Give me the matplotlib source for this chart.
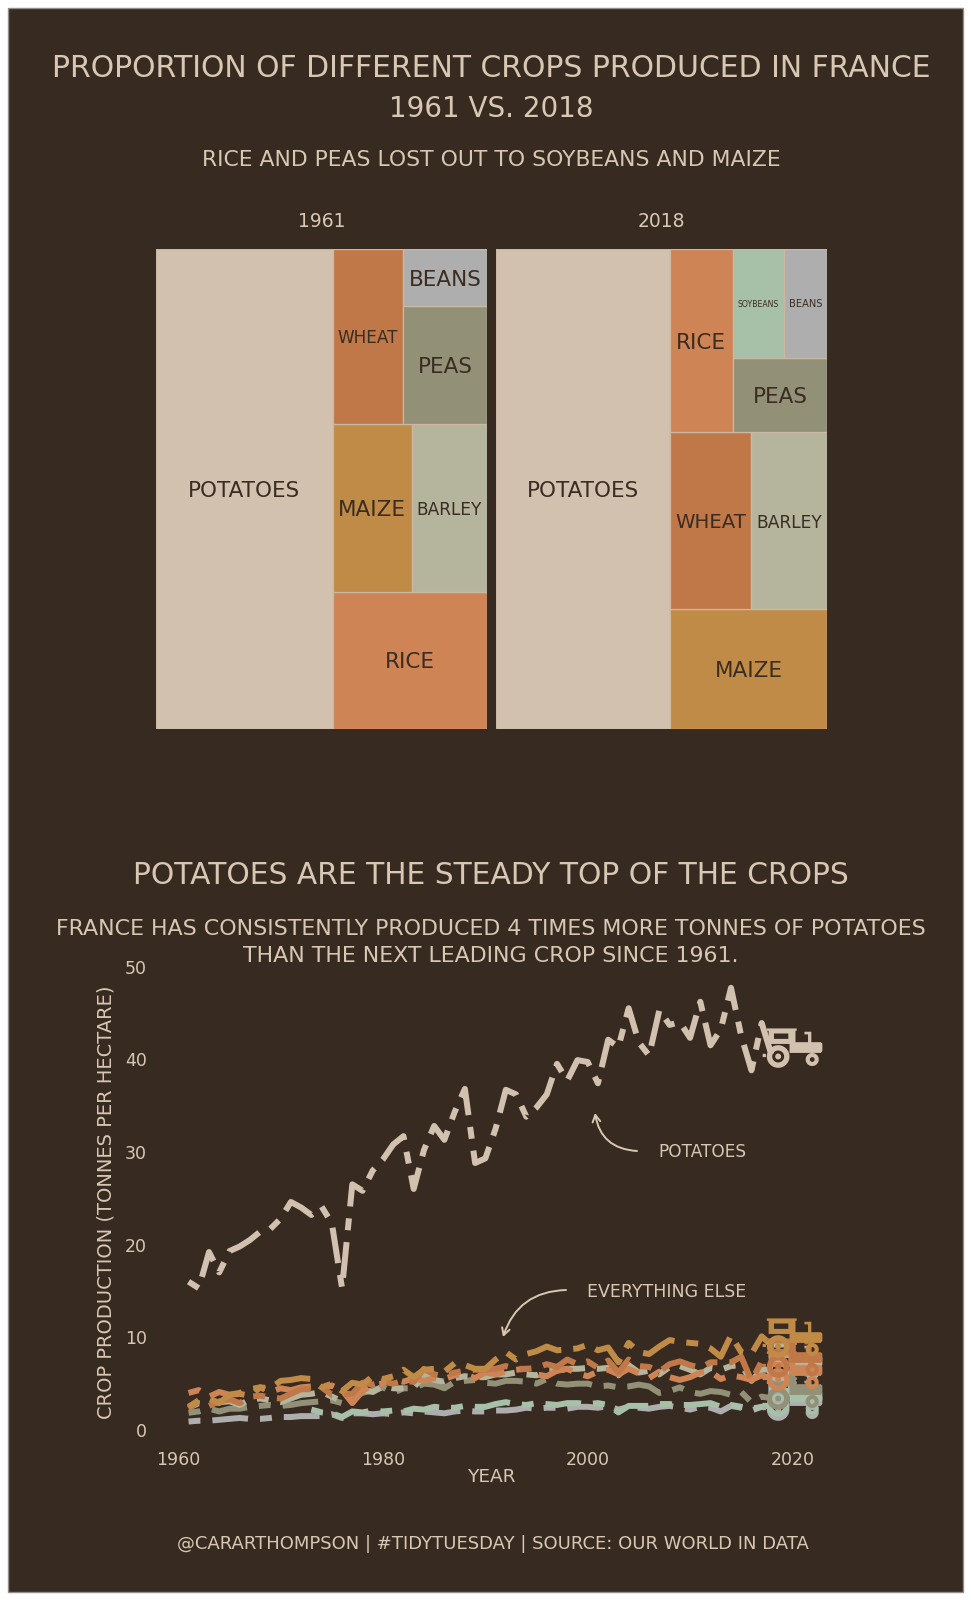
import matplotlib
matplotlib.use("Agg")
import matplotlib.pyplot as plt
from matplotlib.patches import Rectangle
from matplotlib.path import Path
import numpy as np

plt.rcParams['font.family'] = ['DejaVu Sans']

# ---------------------------------------------------------------- data
YEAR_START = 1961
POTATOES = [16.0, 15.3, 19.2, 17.0, 19.3, 19.8, 20.5, 21.4, 21.7, 22.8,
            24.6, 24.0, 23.2, 24.1, 22.3, 15.3, 26.5, 25.8, 28.0, 29.2,
            30.8, 31.7, 26.0, 30.2, 32.8, 31.3, 34.3, 36.8, 28.8, 29.3,
            32.5, 36.7, 36.2, 33.8, 34.8, 36.2, 39.5, 37.7, 39.9, 39.7,
            37.4, 42.1, 41.3, 45.5, 41.8, 40.4, 45.3, 43.7, 44.0, 42.3,
            46.2, 41.5, 43.2, 47.7, 42.5, 38.8, 43.9, 40.3]
MAIZE = [2.5, 3.2, 3.4, 2.9, 3.8, 4.0, 4.4, 4.6, 4.5, 5.3,
         5.4, 5.6, 5.5, 4.6, 5.0, 4.2, 5.1, 4.9, 5.8, 5.5,
         5.8, 6.5, 5.7, 6.5, 6.6, 6.3, 7.2, 7.0, 6.6, 6.6,
         7.6, 8.4, 7.6, 8.2, 8.5, 9.0, 8.6, 8.7, 8.8, 9.2,
         8.6, 8.9, 7.3, 9.4, 8.4, 8.2, 9.0, 9.7, 9.5, 9.4,
         9.3, 8.8, 7.9, 10.2, 8.4, 8.2, 10.1, 9.1]
RICE = [4.0, 4.3, 3.6, 4.1, 3.8, 3.9, 3.7, 4.6, 4.1, 4.5,
        4.3, 4.6, 4.7, 4.5, 4.8, 4.3, 2.9, 4.2, 4.9, 5.0,
        5.5, 5.2, 5.6, 5.3, 5.6, 5.5, 5.9, 6.0, 5.6, 6.2,
        6.0, 6.3, 6.5, 6.6, 6.0, 5.8, 6.4, 6.6, 6.1, 5.8,
        6.3, 6.5, 6.0, 6.6, 6.1, 5.6, 6.3, 5.7, 5.4, 5.7,
        6.2, 6.3, 5.5, 5.9, 5.7, 5.4, 5.9, 5.55]
WHEAT = [2.33, 3.1, 2.6, 3.1, 3.3, 2.9, 3.6, 3.7, 3.5, 3.4,
         3.9, 4.4, 4.4, 4.6, 3.8, 3.9, 3.9, 5.1, 4.9, 5.2,
         5.0, 5.3, 5.2, 6.6, 6.0, 5.8, 6.2, 6.4, 6.5, 6.5,
         6.6, 6.9, 6.6, 6.6, 6.7, 7.1, 6.8, 7.6, 7.1, 7.4,
         6.7, 7.5, 6.2, 7.6, 6.9, 6.8, 6.3, 7.1, 7.4, 7.0,
         6.7, 7.3, 7.3, 7.3, 7.9, 5.3, 7.4, 6.93]
BARLEY = [2.40, 2.9, 2.8, 3.0, 3.1, 2.7, 3.3, 3.4, 3.2, 3.0,
          3.4, 3.8, 3.9, 4.1, 3.6, 3.1, 3.9, 4.3, 4.1, 4.7,
          4.5, 4.5, 4.6, 5.9, 5.4, 5.2, 5.6, 5.8, 5.7, 5.7,
          6.0, 6.0, 6.2, 6.0, 5.9, 6.4, 6.4, 6.6, 6.6, 6.7,
          6.6, 6.7, 5.9, 7.0, 6.2, 6.4, 6.0, 6.8, 6.9, 6.5,
          6.0, 6.7, 6.5, 6.9, 7.0, 5.3, 6.5, 6.52]
PEAS = [1.86, 2.0, 2.3, 2.0, 2.3, 2.3, 2.5, 2.6, 2.7, 2.6,
        2.7, 2.9, 3.0, 3.1, 3.2, 2.9, 3.5, 4.0, 4.3, 4.6,
        4.0, 4.5, 4.5, 5.0, 4.9, 4.5, 5.2, 5.3, 5.4, 5.1,
        5.0, 5.3, 5.3, 5.2, 5.0, 5.5, 5.0, 4.9, 5.0, 5.0,
        4.7, 4.8, 4.6, 4.7, 4.9, 4.7, 4.0, 4.2, 4.6, 4.1,
        3.9, 4.2, 4.1, 3.8, 4.1, 3.0, 3.6, 3.41]
BEANS = [0.91, 1.0, 1.0, 1.1, 1.2, 1.3, 1.2, 1.2, 1.3, 1.4,
         1.4, 1.5, 1.5, 1.5, 1.7, 1.3, 1.8, 1.8, 1.7, 1.8,
         1.7, 1.9, 1.8, 2.0, 1.9, 1.8, 2.0, 2.1, 2.0, 2.0,
         2.1, 2.1, 2.2, 2.4, 2.3, 2.4, 2.4, 2.3, 2.5, 2.5,
         2.4, 2.6, 2.2, 2.5, 2.4, 2.3, 2.5, 2.6, 2.4, 2.2,
         2.5, 2.4, 2.0, 2.6, 2.4, 2.1, 2.5, 2.27]
SOY_START = 1973
SOYBEANS = [2.2, 1.9, 1.8, 1.4, 2.0, 1.9, 2.1, 2.0,
            2.1, 2.0, 2.3, 2.2, 2.5, 2.4, 2.4, 2.6, 2.5, 2.5,
            2.8, 3.0, 2.8, 2.7, 2.9, 2.8, 2.7, 2.9, 2.9, 2.8,
            2.9, 2.7, 1.9, 2.6, 2.6, 2.6, 2.8, 2.8, 2.7, 2.7,
            2.8, 2.9, 2.5, 2.7, 2.5, 2.3, 2.5, 2.70]

CROP_NAMES = ["Potatoes", "Maize", "Wheat", "Rice", "Barley", "Peas", "Soybeans", "Beans"]
CROP_COLORS = ["#d2c1ae", "#c08b46", "#c17848", "#ce8455", "#b5b59d", "#929178", "#a7c0a8", "#aeaeae"]
SERIES = {
    "Potatoes": (YEAR_START, POTATOES), "Maize": (YEAR_START, MAIZE),
    "Wheat": (YEAR_START, WHEAT), "Rice": (YEAR_START, RICE),
    "Barley": (YEAR_START, BARLEY), "Peas": (YEAR_START, PEAS),
    "Soybeans": (SOY_START, SOYBEANS), "Beans": (YEAR_START, BEANS),
}
TREEMAP_YEARS = [1961, 2018]
Y_TICKS = [0, 10, 20, 30, 40, 50]
X_TICKS = [1960, 1980, 2000, 2020]

TITLE = "Proportion of Different Crops Produced in France"
TITLE2 = "1961 vs. 2018"
SUBTITLE = "Rice and Peas lost out to Soybeans and Maize"
HEAD2 = "Potatoes are the steady top of the crops"
SUB2 = ["France has consistently produced 4 times more tonnes of potatoes",
        "than the next leading crop since 1961."]
YLABEL = "Crop production (tonnes per hectare)"
XLABEL = "Year"
ANN_POT = "Potatoes"
ANN_ELSE = "Everything else"
CAPTION = "@cararthompson | #TidyTuesday | Source: Our World In Data"

# ---------------------------------------------------------------- style
W, H, DPI = 971, 1600, 100
BG = "#372a20"
FG = "#d8c8b3"
DARK = "#3a2c21"
EDGE = "#cbb8a2"
LW = 4.3
DASH = (0, (2, 2, 6, 2))
TRACTOR_YEAR = 2020


def fx(px):
    return px / W


def fy(py):
    return 1 - py / H


fig = plt.figure(figsize=(W / DPI, H / DPI), dpi=DPI, facecolor="white")
R = fig.canvas.get_renderer()
fig.patches.append(Rectangle((fx(8), fy(1592)), (963 - 8) / W, (1592 - 8) / H,
                             transform=fig.transFigure, facecolor=BG,
                             edgecolor="#8f8f8f", lw=1.0, zorder=-10))


def fit(t, target, dim="w"):
    for _ in range(3):
        bb = t.get_window_extent(renderer=R)
        cur = bb.width if dim == "w" else bb.height
        t.set_fontsize(t.get_fontsize() * target / cur)
    return t


def ftext(x, y, s, width=None, size=14, **kw):
    kw.setdefault("ha", "center")
    kw.setdefault("va", "baseline")
    t = fig.text(fx(x), fy(y), s, color=FG, fontsize=size, **kw)
    if width:
        fit(t, width)
    return t


def value_at(name, year):
    start, vals = SERIES[name]
    i = year - start
    if 0 <= i < len(vals):
        return vals[i]
    return None


# ---------------------------------------------------------------- titles
ftext(491, 76.7, TITLE.upper(), width=880)
ftext(491, 116.7, TITLE2.upper(), size=20)
ftext(491, 166, SUBTITLE.upper(), width=580)


# ---------------------------------------------------------------- treemaps
def worst(row, side):
    s = sum(row)
    return max(max(side * side * r / (s * s), (s * s) / (side * side * r)) for r in row)


def squarify(areas, x, y, w, h):
    rects = []
    areas = list(areas)
    while areas:
        side = min(w, h)
        row = [areas[0]]
        i = 1
        while i < len(areas) and worst(row + [areas[i]], side) <= worst(row, side):
            row.append(areas[i])
            i += 1
        s = sum(row)
        if w >= h:
            cw = s / h
            yy = y
            for a in row:
                rh = a / cw
                rects.append((x, yy, cw, rh))
                yy += rh
            x += cw
            w -= cw
        else:
            rh = s / w
            xx = x
            for a in row:
                rw = a / rh
                rects.append((xx, y, rw, rh))
                xx += rw
            y += rh
            h -= rh
        areas = areas[i:]
    return rects


PANELS = [(156, 487.3), (495.7, 827.3)]
TM_TOP, TM_BOT = 249, 729
for year, (x0, x1) in zip(TREEMAP_YEARS, PANELS):
    ax = fig.add_axes([fx(x0), fy(TM_BOT), (x1 - x0) / W, (TM_BOT - TM_TOP) / H])
    ax.set_xlim(0, 1)
    ax.set_ylim(0, 1)
    ax.axis("off")
    items = [(n, value_at(n, year), c) for n, c in zip(CROP_NAMES, CROP_COLORS)
             if value_at(n, year) is not None]
    items.sort(key=lambda it: -it[1])
    total = sum(v for _, v, _ in items)
    rects = squarify([v / total for _, v, _ in items], 0, 0, 1, 1)
    for (name, v, col), (rx, ry, rw, rh) in zip(items, rects):
        ax.add_patch(Rectangle((rx, ry), rw, rh, facecolor=col, edgecolor=EDGE, lw=0.9))
        t = ax.text(rx + rw / 2, ry + rh / 2, name.upper(), ha="center",
                    va="center_baseline", fontsize=15.5, color=DARK)
        cell_w = rw * (x1 - x0)
        bb = t.get_window_extent(renderer=R)
        if bb.width > cell_w - 10:
            t.set_fontsize(15.5 * (cell_w - 10) / bb.width)
    ftext((x0 + x1) / 2, 226.7, str(year), size=13.5)

# ---------------------------------------------------------------- line chart
ftext(491, 884, HEAD2.upper(), width=715)
t1 = ftext(491, 934.5, SUB2[0].upper(), width=870)
ftext(491, 962.5, SUB2[1].upper(), size=t1.get_fontsize())

PX0, PY0, PXS, PYS = 178.3, 1430.0, 10.235, 9.27   # year 1960 / value 0 pixel anchors, px per unit
AX_L, AX_R, AX_T, AX_B = 150, 835, 940, 1440
ax3 = fig.add_axes([fx(AX_L), fy(AX_B), (AX_R - AX_L) / W, (AX_B - AX_T) / H])
ax3.set_facecolor("none")
ax3.set_xlim(1960 + (AX_L - PX0) / PXS, 1960 + (AX_R - PX0) / PXS)
ax3.set_ylim((PY0 - AX_B) / PYS, (PY0 - AX_T) / PYS)
for sp in ax3.spines.values():
    sp.set_visible(False)
ax3.set_xticks(X_TICKS)
ax3.set_yticks(Y_TICKS)
ax3.tick_params(length=0, colors=FG, labelsize=12.5)
ax3.tick_params(axis="y", pad=2.2)
ax3.tick_params(axis="x", pad=8.0)


# tractor icon as a marker path
def poly(pts):
    v = list(pts) + [pts[0]]
    c = [Path.MOVETO] + [Path.LINETO] * (len(pts) - 1) + [Path.CLOSEPOLY]
    return v, c


def circ(cx, cy, r, ccw=True, n=36):
    a = np.linspace(0, 2 * np.pi, n, endpoint=False)
    if not ccw:
        a = a[::-1]
    return [(cx + r * np.cos(t), cy + r * np.sin(t)) for t in a]


SHIFT = 0.3
parts = [
    [(-0.1, -0.18), (0.95, -0.18), (1.0, -0.11), (1.0, 0.13), (0.95, 0.18), (0.10, 0.18),
     (0.10, 0.56), (0.14, 0.56), (0.14, 0.64), (-0.86, 0.64), (-0.86, 0.56), (-0.80, 0.56),
     (-0.80, 0.12), (-0.1, 0.12)],
    [(-0.62, 0.29), (-0.62, 0.47), (-0.14, 0.47), (-0.14, 0.29)],
    [(0.52, 0.18), (0.63, 0.18), (0.63, 0.44), (0.52, 0.44)],
    [(0.40, 0.44), (0.63, 0.44), (0.63, 0.53), (0.40, 0.53)],
    circ(-0.48, -0.30, 0.38, True), circ(-0.48, -0.30, 0.20, False), circ(-0.48, -0.30, 0.10, True),
    circ(0.66, -0.40, 0.22, True), circ(0.66, -0.40, 0.08, False),
    [(-1.0, -0.32), (-0.89, -0.32), (-0.89, -0.21), (-1.0, -0.21)],
]
verts, codes = [], []
for p in parts:
    v, c = poly([(x, y + SHIFT) for x, y in p])
    verts += v
    codes += c
TRACTOR = Path(verts, codes)

draw_order = ["Beans", "Soybeans", "Peas", "Barley", "Rice", "Wheat", "Maize", "Potatoes"]
color_of = dict(zip(CROP_NAMES, CROP_COLORS))
for name in draw_order:
    start, vals = SERIES[name]
    yrs = np.arange(start, start + len(vals))
    ax3.plot(yrs, vals, color=color_of[name], lw=LW, linestyle=DASH,
             dash_capstyle="butt", dash_joinstyle="round", zorder=3)
for name in draw_order:
    start, vals = SERIES[name]
    ax3.plot([TRACTOR_YEAR], [vals[-1]], marker=TRACTOR, ms=43, mew=0,
             color=color_of[name], linestyle="none", clip_on=False, zorder=4)


def dx(px):
    return 1960 + (px - PX0) / PXS


def dy(py):
    return (PY0 - py) / PYS


ax3.annotate("", xy=(dx(595), dy(1113)), xytext=(dx(637), dy(1151)),
             arrowprops=dict(arrowstyle="->,head_length=0.5,head_width=0.28", color=FG,
                             lw=1.4, connectionstyle="arc3,rad=-0.4", shrinkA=0, shrinkB=0))
ax3.annotate("", xy=(dx(503), dy(1337)), xytext=(dx(566), dy(1290)),
             arrowprops=dict(arrowstyle="->,head_length=0.5,head_width=0.28", color=FG,
                             lw=1.4, connectionstyle="arc3,rad=0.35", shrinkA=0, shrinkB=0))
ftext(658, 1157.3, ANN_POT.upper(), width=88, ha="left")
ftext(587, 1296.7, ANN_ELSE.upper(), width=158, ha="left")

ax3.set_ylabel(YLABEL.upper(), color=FG, fontsize=12)
ax3.yaxis.set_label_coords((115 - AX_L) / (AX_R - AX_L), (AX_B - 1202.5) / (AX_B - AX_T))
fit(ax3.yaxis.label, 435, dim="h")
ax3.set_xlabel(XLABEL.upper(), color=FG, fontsize=12)
ax3.xaxis.set_label_coords((491 - AX_L) / (AX_R - AX_L), (AX_B - 1468) / (AX_B - AX_T))
fit(ax3.xaxis.label, 48)

# ---------------------------------------------------------------- caption
ftext(493, 1549, CAPTION.upper(), width=629)

fig.savefig("out.png", dpi=DPI, facecolor=fig.get_facecolor())
